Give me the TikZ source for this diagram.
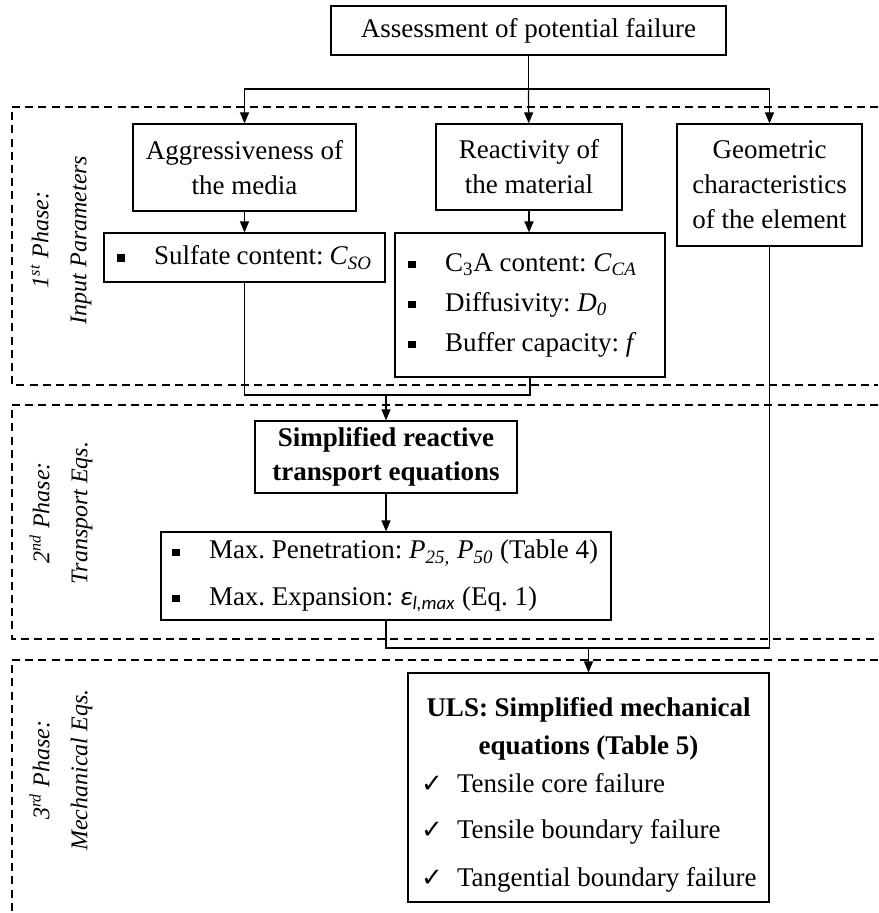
\documentclass[tikz,border=0pt]{standalone}
\usepackage{fontspec}
\setmainfont{Liberation Serif}
\newfontfamily\calfont{Carlito}
\newfontfamily\symfont{DejaVu Sans}
\usepackage{tikz}
\usetikzlibrary{arrows.meta}
\AtBeginDocument{\frenchspacing}
\newcommand\sqbul{\makebox[18.5pt][l]{\rule[1.3pt]{3.9pt}{3.9pt}}}
\newcommand\chk{\makebox[18pt][l]{{\symfont\fontsize{13}{13}\selectfont ✓}}}
\tikzset{
  flowbox/.style={draw, rectangle, line width=0.6pt, align=center, inner sep=0pt,
    font=\fontsize{13.5}{17.5}\selectfont},
  listbox/.style={draw, rectangle, line width=0.6pt, align=left, inner xsep=6.5pt,
    inner ysep=0pt, font=\fontsize{13.5}{20}\selectfont,
    execute at begin node={\spaceskip=0pt \xspaceskip=0pt \hyphenpenalty=10000 }},
  phaseframe/.style={dash pattern=on 4pt off 2.6pt, line width=0.6pt},
  phaselabel/.style={rotate=90, align=center, font=\fontsize{12}{19}\selectfont\itshape},
  link/.style={line width=0.6pt},
  linkarrow/.style={link, -{Triangle[length=5.5pt, width=4.5pt]}},
}

\begin{document}
\begin{tikzpicture}[x=0.5pt, y=-0.5pt]
\useasboundingbox (0,0) rectangle (878,913);
% phase frames (open on the right)
\draw[phaseframe] (878,107) -- (12,107) -- (12,385) -- (878,385);
\draw[phaseframe] (878,405) -- (12,405) -- (12,639) -- (878,639);
\draw[phaseframe] (878,660) -- (12,660) -- (12,913);
\node[phaselabel] (lab1) at (61,240) {1\textsuperscript{st} Phase:\\Input Parameters};
\node[phaselabel] (lab2) at (61,513) {2\textsuperscript{nd} Phase:\\Transport Eqs.};
\node[phaselabel] (lab3) at (61,770) {3\textsuperscript{rd} Phase:\\Mechanical Eqs.};
% boxes
\node[flowbox, minimum width=197.5pt, minimum height=24.5pt] (assess) at (528.5,30.5)
  {Assessment of potential failure};
\node[flowbox, minimum width=111.5pt, minimum height=43.5pt] (aggr) at (244.5,167.5)
  {Aggressiveness of\\the media};
\node[flowbox, minimum width=93pt, minimum height=43pt] (react) at (529,167)
  {Reactivity of\\the material};
\node[flowbox, minimum width=92.5pt, minimum height=61pt] (geom) at (769.5,185)
  {Geometric\\characteristics\\of the element};
\node[listbox, text width=127.5pt, minimum height=24.5pt] (sulfate) at (244.5,257.5)
  {\sqbul Sulfate content: \textit{C}\textsubscript{\textit{SO}}};
\node[listbox, text width=122pt, minimum height=72pt] (c3a) at (530,305)
  {\sqbul C\textsubscript{3}A content: \textit{C}\textsubscript{\textit{CA}}\\
   \sqbul Diffusivity: \textit{D}\textsubscript{\textit{0}}\\
   \sqbul Buffer capacity: \textit{f}};
\node[flowbox, minimum width=131pt, minimum height=36pt, font=\fontsize{13.5}{17}\selectfont\bfseries]
  (simp) at (386,457) {Simplified reactive\\transport equations};
\node[listbox, text width=214pt, inner xsep=5.5pt, minimum height=44pt,
  font=\fontsize{13.5}{23}\selectfont] (maxbox) at (386,576)
  {\sqbul Max. Penetration: \textit{P}\textsubscript{\textit{25,}} \textit{P}\textsubscript{\textit{50}} (Table 4)\\
   \sqbul Max. Expansion: {\calfont\itshape ε\textsubscript{l,max}} (Eq. 1)};
\node[listbox, text width=169.5pt, inner xsep=5.5pt, minimum height=114.5pt,
  font=\fontsize{13.5}{19}\selectfont] (uls) at (588.5,787.5)
  {{\centering\bfseries\rule{0pt}{16.5pt}ULS: Simplified mechanical\\equations (Table 5)\par}
   \hspace{1pt}\chk Tensile core failure\\[4pt]
   \hspace{1pt}\chk Tensile boundary failure\\[5pt]
   \hspace{1pt}\chk Tangential boundary failure};
% junctions
\coordinate (fork) at (528.5,89);
\coordinate (merge) at (386,395);
\coordinate (meet) at (588.5,648);
% connectors
\draw[link] (assess) -- (fork);
\draw[linkarrow] (fork) -| (aggr);
\draw[linkarrow] (fork) -- (react);
\draw[linkarrow] (fork) -| (geom);
\draw[linkarrow] (aggr) -- (sulfate);
\draw[linkarrow] (react) -- (react |- c3a.north);
\draw[link] (sulfate) |- (merge);
\draw[link] (c3a) |- (merge);
\draw[linkarrow] (merge) -- (simp);
\draw[linkarrow] (simp) -- (maxbox);
\draw[link] (maxbox) |- (meet);
\draw[link] (geom) |- (meet);
\draw[linkarrow] (meet) -- (uls);
\end{tikzpicture}
\end{document}
